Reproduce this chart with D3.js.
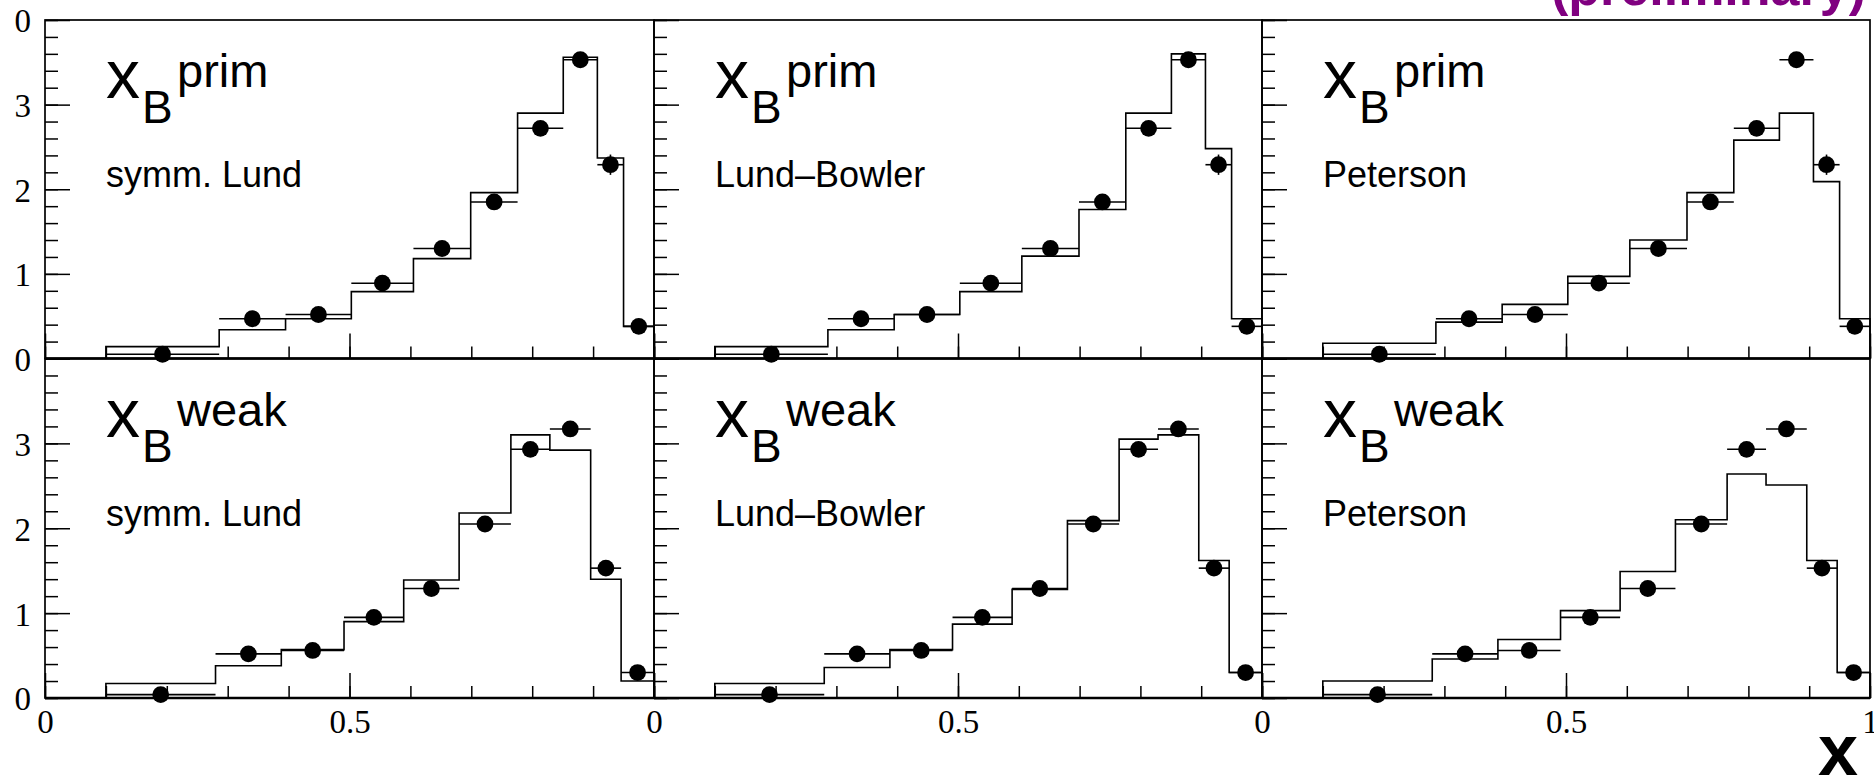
<!DOCTYPE html>
<html><head><meta charset="utf-8">
<script src="https://cdn.jsdelivr.net/npm/d3@7"></script>
<style>html,body{margin:0;padding:0;background:#fff;overflow:hidden}svg{display:block}</style>
</head><body><svg id="c" width="1874" height="777"></svg>
<script>
// ---------- data ----------
const binEdgesPrim = [0.1, 0.286, 0.395, 0.503, 0.605, 0.699, 0.776, 0.851, 0.907, 0.950, 1.0];
const binEdgesWeak = [0.1, 0.280, 0.388, 0.491, 0.589, 0.680, 0.765, 0.829, 0.896, 0.946, 1.0];

const dataPrim = [0.05, 0.47, 0.52, 0.89, 1.30, 1.85, 2.72, 3.53, 2.29, 0.38];
const errPrim  = [0.01, 0.02, 0.02, 0.03, 0.04, 0.05, 0.06, 0.08, 0.12, 0.04];
const dataWeak = [0.04, 0.52, 0.56, 0.95, 1.29, 2.05, 2.93, 3.17, 1.53, 0.30];
const errWeak  = [0.01, 0.02, 0.02, 0.03, 0.04, 0.05, 0.06, 0.06, 0.06, 0.03];

const mcPrimLund     = [0.14, 0.34, 0.47, 0.79, 1.18, 1.96, 2.90, 3.56, 2.37, 0.38];
const mcPrimBowler   = [0.14, 0.34, 0.52, 0.79, 1.21, 1.76, 2.90, 3.60, 2.48, 0.47];
const mcPrimPeterson = [0.18, 0.43, 0.64, 0.97, 1.40, 1.96, 2.58, 2.90, 2.09, 0.47];
const mcWeakLund     = [0.17, 0.38, 0.57, 0.90, 1.39, 2.18, 3.10, 2.92, 1.40, 0.20];
const mcWeakBowler   = [0.17, 0.36, 0.57, 0.87, 1.28, 2.09, 3.05, 3.10, 1.62, 0.30];
const mcWeakPeterson = [0.20, 0.46, 0.69, 1.03, 1.49, 2.10, 2.64, 2.51, 1.62, 0.30];

const modelNames = ["symm. Lund", "Lund\u2013Bowler", "Peterson"];
const rowSuper = ["prim", "weak"];
const yTicks = [0, 1, 2, 3, 4];
const yTickLabels = ["0", "1", "2", "3", "0"];
const xTicks = [0, 0.5, 1];
const xTickLabelsByCol = [["0", "0.5", ""], ["0", "0.5", ""], ["0", "0.5", "1"]];
const axisTitle = "x";
const stamp = "(preliminary)";

// ---------- layout ----------
const colX = [45, 654, 1262, 1870];
const rowY = [20, 358.5, 698];
const SANS = "'Liberation Sans', Arial, Helvetica, sans-serif";
const SERIF = "'Liberation Serif', 'Times New Roman', serif";

const svg = d3.select("#c");

const rows = [
  {edges: binEdgesPrim, data: dataPrim, err: errPrim, mc: [mcPrimLund, mcPrimBowler, mcPrimPeterson]},
  {edges: binEdgesWeak, data: dataWeak, err: errWeak, mc: [mcWeakLund, mcWeakBowler, mcWeakPeterson]}
];

rows.forEach((row, r) => {
  for (let c = 0; c < 3; c++) {
    const x = d3.scaleLinear([0, 1], [colX[c], colX[c + 1]]);
    const y = d3.scaleLinear([0, 4], [rowY[r + 1], rowY[r]]);
    const g = svg.append("g");

    // histogram (MC)
    const mc = row.mc[c];
    const pts = [[row.edges[0], 0]];
    mc.forEach((v, i) => pts.push([row.edges[i], v]));
    pts.push([row.edges[row.edges.length - 1], 0]);
    g.append("path")
      .attr("d", d3.line().x(d => x(d[0])).y(d => y(d[1])).curve(d3.curveStepAfter)(pts))
      .attr("fill", "none").attr("stroke", "#000").attr("stroke-width", 1.6);

    // data points with error bars
    const pg = g.append("g").attr("stroke", "#000").attr("stroke-width", 1.6);
    row.data.forEach((v, i) => {
      const lo = row.edges[i], hi = row.edges[i + 1], xc = (lo + hi) / 2;
      pg.append("line").attr("x1", x(lo)).attr("x2", x(hi)).attr("y1", y(v)).attr("y2", y(v));
      pg.append("line").attr("x1", x(xc)).attr("x2", x(xc))
        .attr("y1", y(v - row.err[i])).attr("y2", y(v + row.err[i]));
      g.append("circle").attr("cx", x(xc)).attr("cy", y(v)).attr("r", 8.4).attr("fill", "#000");
    });

    // frame
    g.append("rect").attr("x", colX[c]).attr("y", rowY[r])
      .attr("width", colX[c + 1] - colX[c]).attr("height", rowY[r + 1] - rowY[r])
      .attr("fill", "none").attr("stroke", "#000").attr("stroke-width", 1.7);
    g.append("line").attr("x1", colX[c]).attr("x2", colX[c + 1])
      .attr("y1", rowY[r + 1]).attr("y2", rowY[r + 1])
      .attr("stroke", "#000").attr("stroke-width", 2.4);

    // y ticks (inward)
    const yMajor = g.append("g").attr("transform", `translate(${colX[c]},0)`)
      .call(d3.axisRight(y).tickValues(yTicks).tickSize(25).tickFormat(""));
    const yMinor = g.append("g").attr("transform", `translate(${colX[c]},0)`)
      .call(d3.axisRight(y).tickValues(d3.range(0, 4.001, 0.2)).tickSize(13).tickFormat(""));
    // x ticks (inward)
    const xMajor = g.append("g").attr("transform", `translate(0,${rowY[r + 1]})`)
      .call(d3.axisTop(x).tickValues(xTicks).tickSize(25).tickFormat(""));
    const xMinor = g.append("g").attr("transform", `translate(0,${rowY[r + 1]})`)
      .call(d3.axisTop(x).tickValues(d3.range(0, 1.001, 0.1)).tickSize(12).tickFormat(""));
    [yMajor, yMinor, xMajor, xMinor].forEach(a => {
      a.select(".domain").remove();
      a.selectAll("line").attr("stroke", "#000").attr("stroke-width", 1.5);
    });

    // y labels on the left column
    if (c === 0) {
      const yl = g.append("g").attr("transform", `translate(${colX[0]},0)`)
        .call(d3.axisLeft(y).tickValues(r === 0 ? yTicks : yTicks.slice(0, 4))
          .tickSize(0).tickPadding(14).tickFormat((d, i) => yTickLabels[i]));
      yl.select(".domain").remove();
      yl.selectAll("text").attr("font-family", SERIF).attr("font-size", 33)
        .attr("fill", "#000").attr("dy", "0.36em");
    }
    // x labels on the bottom row
    if (r === 1) {
      const xl = g.append("g").attr("transform", `translate(0,${rowY[2]})`)
        .call(d3.axisBottom(x).tickValues(xTicks).tickSize(0).tickPadding(12)
          .tickFormat((d, i) => xTickLabelsByCol[c][i]));
      xl.select(".domain").remove();
      xl.selectAll("text").attr("font-family", SERIF).attr("font-size", 33).attr("fill", "#000");
    }

    // panel labels
    const t = g.append("g").attr("font-family", SANS).attr("fill", "#000");
    t.append("text").attr("x", colX[c] + 61).attr("y", rowY[r] + 78).attr("font-size", 68).text("x");
    t.append("text").attr("x", colX[c] + 97).attr("y", rowY[r] + 103).attr("font-size", 46).text("B");
    t.append("text").attr("x", colX[c] + 132).attr("y", rowY[r] + 67).attr("font-size", 47).text(rowSuper[r]);
    t.append("text").attr("x", colX[c] + 61).attr("y", rowY[r] + 167).attr("font-size", 36).text(modelNames[c]);
  }
});

// axis title
svg.append("text").attr("x", 1858).attr("y", 775).attr("text-anchor", "end")
  .attr("font-family", SANS).attr("font-weight", "bold").attr("font-size", 72).text(axisTitle);

// preliminary stamp (clipped at top)
svg.append("text").attr("x", 1551).attr("y", 5)
  .attr("font-family", SANS).attr("font-weight", "bold").attr("font-size", 52)
  .attr("fill", "#800080").text(stamp);
</script></body></html>
